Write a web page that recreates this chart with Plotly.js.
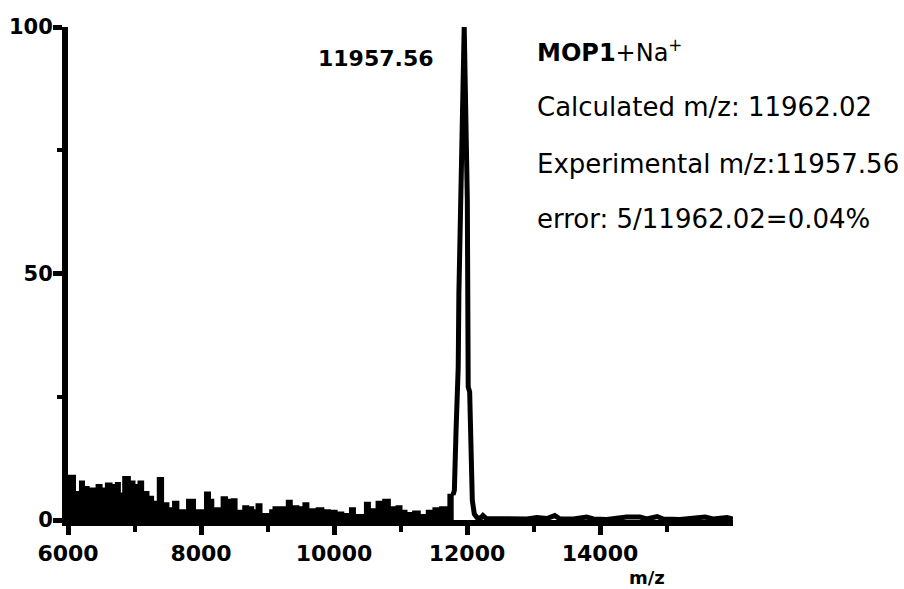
<!DOCTYPE html>
<html>
<head>
<meta charset="utf-8">
<script src="https://cdn.plot.ly/plotly-3.0.1.min.js"></script>
<style>html,body{margin:0;padding:0;background:#fff;}#chart{width:904px;height:589px;}</style>
</head>
<body>
<div id="chart"></div>
<script>
// Noise region (step envelope), m/z and relative intensity (%)
const noiseMz = [6000, 6105, 6180, 6240, 6310, 6430, 6505, 6570, 6655, 6720, 6780, 6830, 6930, 7000, 7060, 7130, 7210, 7280, 7350, 7430, 7510, 7580, 7660, 7790, 7910, 8060, 8135, 8185, 8310, 8390, 8465, 8535, 8635, 8710, 8785, 8835, 8910, 9040, 9090, 9290, 9365, 9465, 9540, 9615, 9740, 9840, 9940, 10040, 10140, 10240, 10315, 10465, 10540, 10640, 10740, 10840, 10940, 11015, 11090, 11190, 11290, 11395, 11495, 11595, 11720, 11800];
const noiseInt = [9.0, 5.7, 7.8, 6.7, 6.4, 7.1, 6.4, 7.4, 7.1, 7.5, 5.4, 8.7, 7.8, 7.1, 7.8, 5.7, 4.7, 3.7, 8.5, 3.4, 2.4, 3.7, 2.0, 4.1, 2.0, 5.6, 4.1, 2.4, 4.6, 4.1, 4.2, 1.9, 2.8, 2.6, 2.0, 3.2, 1.2, 2.0, 2.6, 3.9, 2.8, 2.6, 3.4, 2.2, 2.4, 2.0, 1.9, 1.5, 1.2, 2.4, 1.0, 3.5, 2.2, 3.7, 4.1, 2.6, 2.8, 1.9, 1.4, 1.7, 1.0, 1.9, 2.4, 2.6, 5.1, 5.1];
// Molecular ion peak and tail
const peakMz = [11790, 11810, 11835, 11868, 11878, 11905, 11958, 12005, 12012, 12018, 12040, 12060, 12080, 12110, 12150, 12200, 12240, 12290, 12500, 12700, 12900, 13050, 13200, 13320, 13400, 13600, 13800, 13900, 14100, 14400, 14500, 14600, 14700, 14860, 14950, 15200, 15580, 15700, 15910, 16000];
const peakInt = [5.1, 6.0, 18, 31, 46, 65, 100, 65, 40, 27, 26, 10, 4, 1.2, 0.5, 0.3, 0.9, 0.3, 0.2, 0.3, 0.2, 0.5, 0.3, 0.9, 0.2, 0.2, 0.6, 0.2, 0.1, 0.6, 0.6, 0.6, 0.2, 0.7, 0.2, 0.1, 0.6, 0.2, 0.5, 0.2];
// Axis ticks
const xTicks = [6000, 8000, 10000, 12000, 14000];
const xMinor = [7000, 9000, 11000, 13000, 15000];
const yTicks = [0, 50, 100];
const yMinor = [25, 75];
// Text
const peakLabel = "11957.56";
const xTitle = "m/z";
const infoLines = ["<b>MOP1</b>+Na<sup>+</sup>", "Calculated m/z: 11962.02", "Experimental m/z:11957.56", "error: 5/11962.02=0.04%"];

const L = 68, R = 171, T = 27, B = 69;
const W = 904 - L - R, H = 589 - T - B;
const px = x => (x - L) / W;
const py = y => (589 - B - y) / H;

const traces = [
  {x: noiseMz, y: noiseInt, type: 'scatter', mode: 'lines', line: {shape: 'hv', color: '#000', width: 2}, fill: 'tozeroy', fillcolor: '#000', hoverinfo: 'skip'},
  {x: peakMz, y: peakInt, type: 'scatter', mode: 'lines', line: {color: '#000', width: 5}, hoverinfo: 'skip'}
];

const infoY = [51, 107, 164, 219];
const infoSize = [24, 26, 26, 26];
const annotations = [
  {text: '<b>' + peakLabel + '</b>', xref: 'paper', yref: 'paper', x: px(376), y: py(58), xanchor: 'center', yanchor: 'middle', showarrow: false, font: {family: 'DejaVu Sans', size: 22, color: '#000'}},
  {text: '<b>' + xTitle + '</b>', xref: 'paper', yref: 'paper', x: px(647), y: py(577), xanchor: 'center', yanchor: 'middle', showarrow: false, font: {family: 'DejaVu Sans', size: 18, color: '#000'}}
];
infoLines.forEach((t, i) => annotations.push({text: t, xref: 'paper', yref: 'paper', x: px(535), y: py(infoY[i]), xanchor: 'left', yanchor: 'middle', showarrow: false, font: {family: 'DejaVu Sans', size: infoSize[i], color: '#000'}}));

const axisCommon = {
  showgrid: false, zeroline: false, showline: true, linecolor: '#000', linewidth: 6,
  ticks: 'outside', ticklen: 9, tickwidth: 5, tickcolor: '#000',
  fixedrange: true
};

const layout = {
  width: 904, height: 589,
  margin: {l: L, r: R, t: T, b: B},
  paper_bgcolor: '#fff', plot_bgcolor: '#fff',
  showlegend: false,
  xaxis: Object.assign({}, axisCommon, {range: [6000, 16000], tickmode: 'array', tickvals: xTicks, ticktext: xTicks.map(String),
    tickfont: {family: 'DejaVu Sans', size: 22, weight: 'bold', color: '#000'},
    minor: {tickmode: 'array', tickvals: xMinor, ticks: 'outside', ticklen: 6, tickwidth: 4, tickcolor: '#000', showgrid: false}}),
  yaxis: Object.assign({}, axisCommon, {range: [0, 100], tickmode: 'array', tickvals: yTicks, ticktext: yTicks.map(String),
    tickfont: {family: 'DejaVu Sans', size: 21, weight: 'bold', color: '#000'}, ticklabelstandoff: -4,
    minor: {tickmode: 'array', tickvals: yMinor, ticks: 'outside', ticklen: 5, tickwidth: 4, tickcolor: '#000', showgrid: false}}),
  annotations: annotations
};

Plotly.newPlot('chart', traces, layout, {staticPlot: true, displayModeBar: false});
</script>
</body>
</html>
